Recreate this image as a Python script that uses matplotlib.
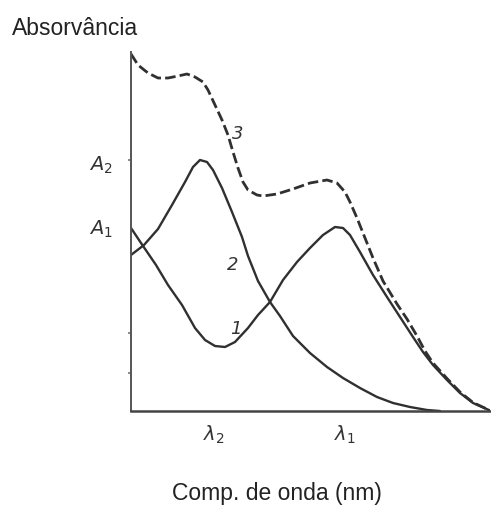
import matplotlib
matplotlib.use("Agg")
import matplotlib.pyplot as plt

plt.rcParams["mathtext.fontset"] = "dejavusans"

# Schematic absorption spectra (arbitrary units on both axes)
# Curve 1: component absorbing mainly at lambda_1
c1_x = [0, 10, 25, 37, 51, 64, 74, 84, 94, 104, 117, 127, 139, 152, 166, 179, 192, 204, 212,
        219, 229, 242, 256, 269, 282, 292, 302, 316, 329, 342, 359]
c1_y = [183, 168, 146, 126, 106, 83, 71, 65, 64, 69, 83, 96, 109, 131, 149, 163, 176, 184, 183,
        176, 159, 136, 114, 94, 74, 59, 46, 31, 18, 8, 0.5]

# Curve 2: component absorbing mainly at lambda_2
c2_x = [0, 13, 27, 41, 54, 62, 69, 76, 82, 91, 101, 111, 117, 127, 139, 149, 162, 179, 196,
        212, 229, 246, 262, 279, 296, 309]
c2_y = [156, 166, 182, 206, 229, 244, 251, 249, 241, 223, 199, 174, 155, 130, 109, 95, 75, 58, 44,
        33, 23, 14, 8, 4, 1, 0]

# Curve 3: spectrum of the mixture (dashed)
c3_x = [0, 7, 17, 27, 37, 47, 56, 64, 72, 77, 84, 91, 97, 102, 107, 112, 117, 126, 132, 146,
        162, 179, 196, 206, 214, 219, 226, 234, 242, 252, 266, 276, 286, 294, 302, 316, 329, 342, 359]
c3_y = [357, 346, 338, 333, 333, 335, 337, 334, 329, 321, 306, 291, 276, 259, 243, 229, 221, 216, 215, 217,
        222, 228, 231, 228, 219, 209, 193, 173, 153, 130, 107, 92, 75, 60, 48, 32.5, 19, 8.5, 0.5]

y_tick_pos = [251, 78, 38]
x_tick_labels = [r"$\lambda_2$", r"$\lambda_1$"]
x_tick_pos = [83, 214]
a_labels = [r"$\mathit{A}_2$", r"$\mathit{A}_1$"]
a_pos = [246, 182]
curve_labels = ["3", "2", "1"]
curve_label_pos = [(106.5, 277), (101.5, 146), (105, 82.5)]

W, H = 491, 505
fig = plt.figure(figsize=(W / 100, H / 100), dpi=100)
ax = fig.add_axes([131 / W, (H - 411) / H, 359 / W, 359 / H])
ax.set_xlim(0, 359)
ax.set_ylim(0, 359)

col = "#303030"
ax.plot(c1_x, c1_y, color=col, lw=1.7, solid_joinstyle="round", solid_capstyle="round")
ax.plot(c2_x, c2_y, color=col, lw=1.7, solid_joinstyle="round", solid_capstyle="round")
ax.plot(c3_x, c3_y, color=col, lw=2.0, ls=(0, (3.8, 1.5)), dash_joinstyle="round")

for s in ["top", "right"]:
    ax.spines[s].set_visible(False)
ax.spines["left"].set_color("#555555")
ax.spines["left"].set_linewidth(1.4)
ax.spines["bottom"].set_color("#444444")
ax.spines["bottom"].set_linewidth(1.8)

ax.set_yticks(y_tick_pos)
ax.set_yticklabels([])
ax.tick_params(axis="y", length=2, width=1.2, color="#777777", direction="out")
ax.set_xticks(x_tick_pos)
ax.set_xticklabels(x_tick_labels, fontsize=14, color="#333333")
ax.tick_params(axis="x", length=0, pad=9)

for lab, yv in zip(a_labels, a_pos):
    ax.text(-18, yv, lab, ha="right", va="center", fontsize=14, color="#333333", weight="bold")

for lab, (xv, yv) in zip(curve_labels, curve_label_pos):
    ax.text(xv, yv, lab, fontsize=13, style="italic", color="#333333", ha="center", va="center")

fig.text(12 / W, 1 - 35 / H, "Absorvância", fontsize=16.5, family="Liberation Sans",
         color="#222222", va="baseline", ha="left")
fig.text(277 / W, 1 - 500 / H, "Comp. de onda (nm)", fontsize=16.5, family="Liberation Sans",
         color="#222222", va="baseline", ha="center")

fig.savefig("out.png", dpi=100)
